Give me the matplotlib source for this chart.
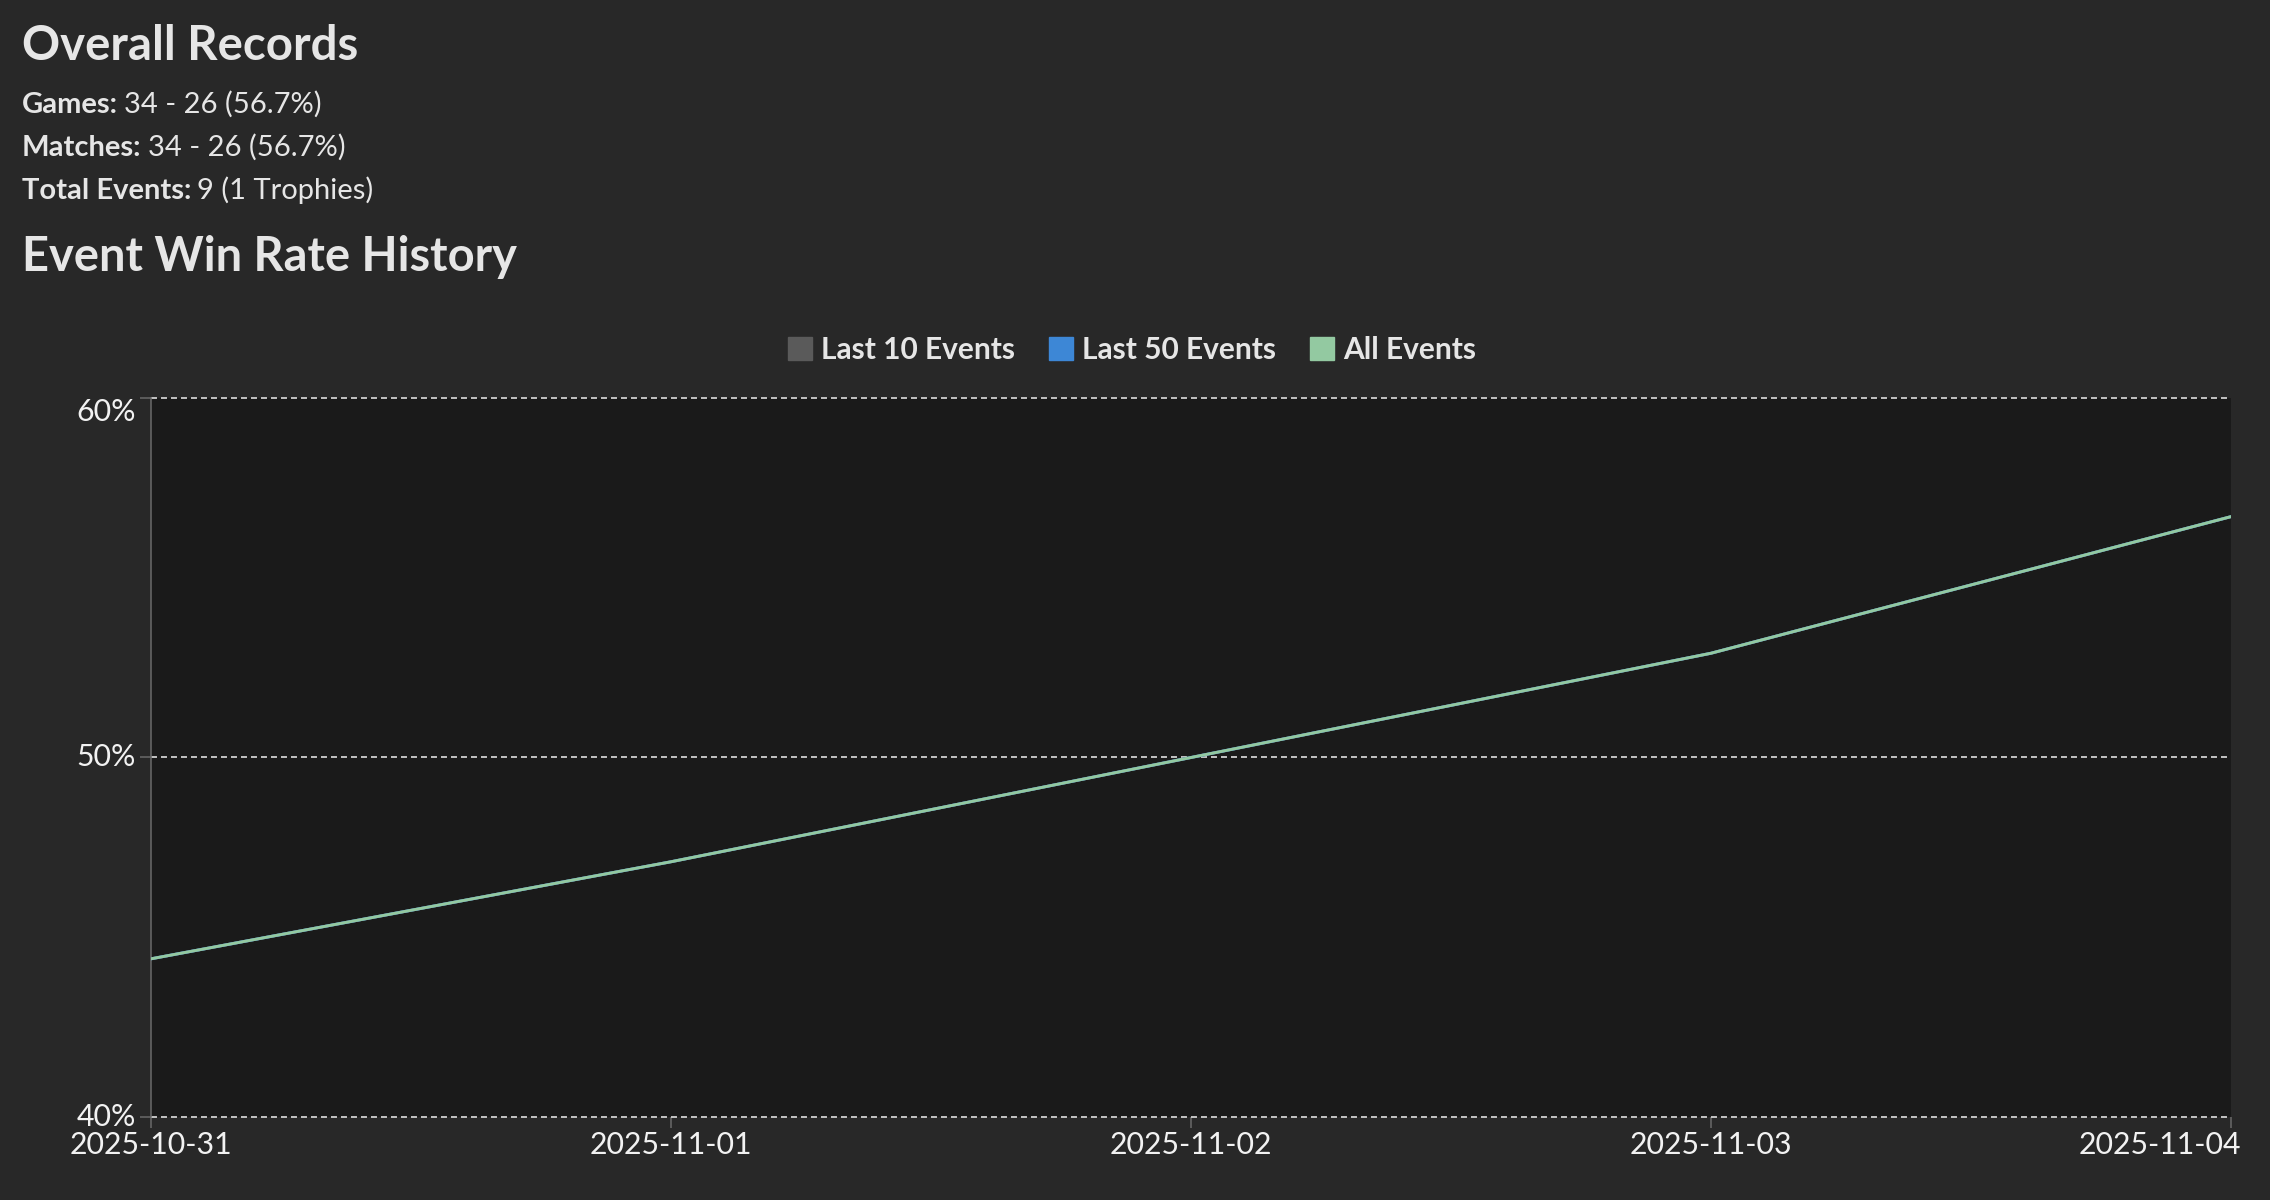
import matplotlib
matplotlib.use("Agg")
import matplotlib.pyplot as plt
import matplotlib.dates as mdates
from matplotlib.patches import Patch
from matplotlib.transforms import ScaledTranslation
import numpy as np
import pandas as pd

# ---------------- data ----------------
dates = ["2025-10-31", "2025-11-01", "2025-11-02", "2025-11-03", "2025-11-04"]
last10_events = [44.4, 47.1, 50.0, 52.9, 56.7]
last50_events = [44.4, 47.1, 50.0, 52.9, 56.7]
all_events = [44.4, 47.1, 50.0, 52.9, 56.7]
series_names = ["Last 10 Events", "Last 50 Events", "All Events"]
series_colors = ["#5a5a5a", "#3d87d6", "#93c9a1"]
y_ticks = [40, 50, 60]

header_title = "Overall Records"
stat_labels = ["Games:", "Matches:", "Total Events:"]
stat_values = ["34 - 26 (56.7%)", "34 - 26 (56.7%)", "9 (1 Trophies)"]
chart_title = "Event Win Rate History"

# ---------------- style ----------------
W, H, DPI = 2270, 1200, 100
BG = "#282828"
PLOT_BG = "#1a1a1a"
TXT = "#e6e6e6"
AXC = "#6a6a6a"
plt.rcParams["font.family"] = ["Lato", "DejaVu Sans"]
plt.rcParams["lines.scale_dashes"] = False

fig = plt.figure(figsize=(W / DPI, H / DPI), dpi=DPI, facecolor=BG)

def fx(px):
    return px / W

def fy(py):
    return 1 - py / H

# header texts
fig.text(fx(22), fy(60), header_title, fontsize=34, fontweight="bold",
         color=TXT, va="baseline", ha="left")
renderer = fig.canvas.get_renderer()
baselines = [113, 156, 199]
for lab, val, b in zip(stat_labels, stat_values, baselines):
    t = fig.text(fx(22), fy(b), lab, fontsize=21, fontweight="bold",
                 color=TXT, va="baseline", ha="left")
    bb = t.get_window_extent(renderer)
    fig.text(bb.x1 / W + fx(6), fy(b), val, fontsize=21, fontweight="normal",
             color=TXT, va="baseline", ha="left")
fig.text(fx(22), fy(271), chart_title, fontsize=33.8, fontweight="bold",
         color=TXT, va="baseline", ha="left")

# axes
left, right, top, bottom = 151, 2231, 398, 1117
ax = fig.add_axes([fx(left), fy(bottom), fx(right - left), (bottom - top) / H])
ax.set_facecolor(PLOT_BG)

x = mdates.date2num(pd.to_datetime(dates))
for vals, name, col in zip([last10_events, last50_events, all_events],
                           series_names, series_colors):
    ax.plot(x, vals, color=col, lw=2.1, solid_capstyle="round",
            solid_joinstyle="round", zorder=3)

ax.set_xlim(x[0], x[-1])
ax.set_ylim(y_ticks[0], y_ticks[-1])
ax.set_yticks(y_ticks)
ax.set_yticklabels([f"{v}%" for v in y_ticks])
ax.set_xticks(x)
ax.set_xticklabels(dates)

for s in ["top", "right", "bottom"]:
    ax.spines[s].set_visible(False)
ax.spines["left"].set_color(AXC)
ax.spines["left"].set_linewidth(1.1)

ax.grid(axis="y", color="#d0d0d0", lw=1.3, linestyle=(0, (4.3, 2.9)), zorder=1)
for gl in ax.get_ygridlines():
    gl.set_clip_on(False)
ax.set_axisbelow(True)

ax.tick_params(axis="y", length=8, width=1.1, color=AXC, pad=3,
               labelsize=21.8, labelcolor="#f2f2f2")
ax.tick_params(axis="x", length=8, width=1.1, color=AXC, pad=2,
               labelsize=21.8, labelcolor="#f2f2f2")

ylabels = ax.get_yticklabels()
for lab in ylabels:
    lab.set_va("center")
ylabels[-1].set_va("top")
xlabels = ax.get_xticklabels()
xlabels[-1].set_ha("right")
xlabels[-1].set_transform(xlabels[-1].get_transform() +
                          ScaledTranslation(10 / DPI, 0, fig.dpi_scale_trans))

# legend
handles = [Patch(facecolor=c, edgecolor=c, label=n)
           for n, c in zip(series_names, series_colors)]
leg = fig.legend(handles=handles, loc="center", bbox_to_anchor=(fx(1132), fy(350)),
                 ncol=3, frameon=False, handlelength=0.8, handleheight=0.8,
                 handletextpad=0.3, columnspacing=1.15,
                 prop={"family": ["Lato", "DejaVu Sans"], "weight": "bold", "size": 21.5})
for t in leg.get_texts():
    t.set_color(TXT)

fig.savefig("out.png", dpi=DPI, facecolor=BG)
